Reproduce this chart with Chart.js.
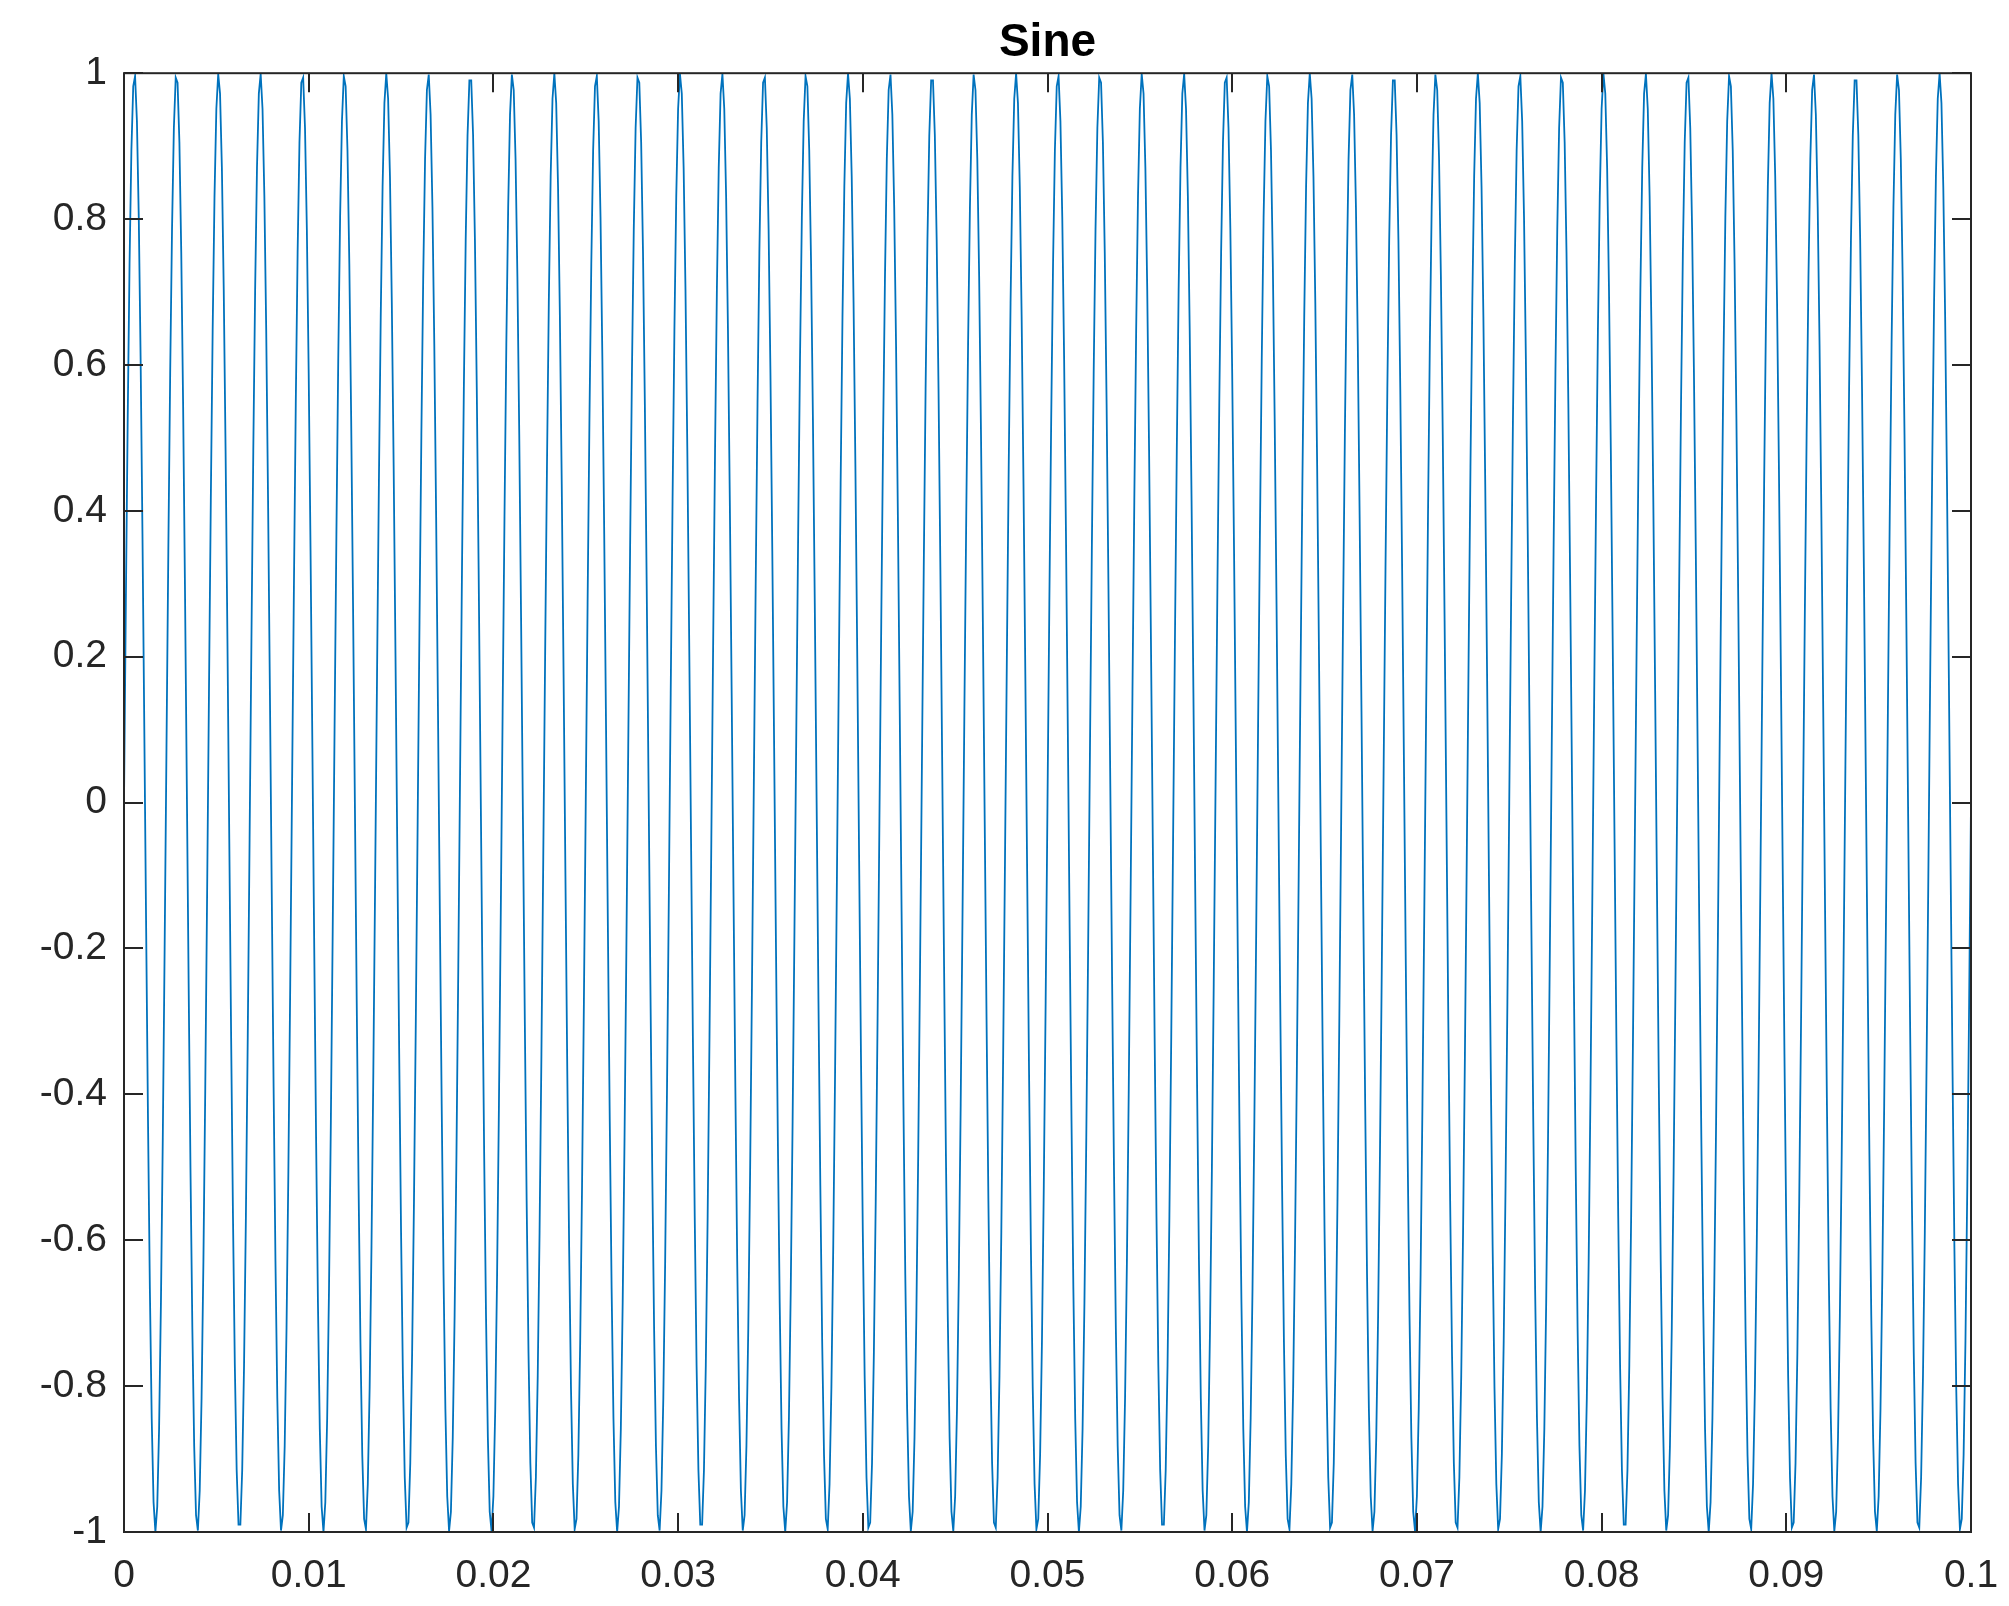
<!DOCTYPE html>
<html>
<head>
<meta charset="utf-8">
<title>Sine</title>
<script src="https://cdn.jsdelivr.net/npm/chart.js@4.4.1/dist/chart.umd.min.js"></script>
<style>
  html, body { margin: 0; padding: 0; background: #fff; }
  #wrap { width: 2009px; height: 1606px; }
</style>
</head>
<body>
<div id="wrap"><canvas id="sineChart"></canvas></div>
<script>
const chartTitle = 'Sine';
const sampleRate = 10000;

const xTickLabels = ['0', '0.01', '0.02', '0.03', '0.04', '0.05', '0.06', '0.07', '0.08', '0.09', '0.1'];
const yTickLabels = ['-1', '-0.8', '-0.6', '-0.4', '-0.2', '0', '0.2', '0.4', '0.6', '0.8', '1'];

const signal = [
  // 0 .. 0.0125 s
  0, 0.273, 0.525, 0.738, 0.894, 0.982, 0.996, 0.934, 0.802, 0.608,
  0.368, 0.1, -0.175, -0.437, -0.666, -0.844, -0.959, -1, -0.965, -0.858,
  -0.685, -0.46, -0.2, 0.075, 0.345, 0.588, 0.786, 0.925, 0.994, 0.987,
  0.905, 0.754, 0.546, 0.297, 0.025, -0.249, -0.504, -0.72, -0.882, -0.977,
  -0.998, -0.943, -0.816, -0.628, -0.391, -0.125, 0.15, 0.414, 0.647, 0.831,
  0.951, 0.999, 0.972, 0.87, 0.703, 0.482, 0.224, -0.05, -0.321, -0.567,
  -0.771, -0.915, -0.99, -0.99, -0.915, -0.771, -0.567, -0.321, -0.05, 0.224,
  0.482, 0.703, 0.87, 0.972, 0.999, 0.951, 0.831, 0.647, 0.414, 0.15,
  -0.125, -0.391, -0.628, -0.816, -0.943, -0.998, -0.977, -0.882, -0.72, -0.504,
  -0.249, 0.025, 0.297, 0.546, 0.754, 0.905, 0.987, 0.994, 0.925, 0.786,
  0.588, 0.345, 0.075, -0.2, -0.46, -0.685, -0.858, -0.965, -1, -0.959,
  -0.844, -0.666, -0.437, -0.175, 0.1, 0.368, 0.608, 0.802, 0.934, 0.996,
  0.982, 0.894, 0.738, 0.525, 0.273,
  // 0.0125 .. 0.025 s
  0, -0.273, -0.525, -0.738, -0.894, -0.982, -0.996, -0.934, -0.802, -0.608,
  -0.368, -0.1, 0.175, 0.437, 0.666, 0.844, 0.959, 1, 0.965, 0.858,
  0.685, 0.46, 0.2, -0.075, -0.345, -0.588, -0.786, -0.925, -0.994, -0.987,
  -0.905, -0.754, -0.546, -0.297, -0.025, 0.249, 0.504, 0.72, 0.882, 0.977,
  0.998, 0.943, 0.816, 0.628, 0.391, 0.125, -0.15, -0.414, -0.647, -0.831,
  -0.951, -0.999, -0.972, -0.87, -0.703, -0.482, -0.224, 0.05, 0.321, 0.567,
  0.771, 0.915, 0.99, 0.99, 0.915, 0.771, 0.567, 0.321, 0.05, -0.224,
  -0.482, -0.703, -0.87, -0.972, -0.999, -0.951, -0.831, -0.647, -0.414, -0.15,
  0.125, 0.391, 0.628, 0.816, 0.943, 0.998, 0.977, 0.882, 0.72, 0.504,
  0.249, -0.025, -0.297, -0.546, -0.754, -0.905, -0.987, -0.994, -0.925, -0.786,
  -0.588, -0.345, -0.075, 0.2, 0.46, 0.685, 0.858, 0.965, 1, 0.959,
  0.844, 0.666, 0.437, 0.175, -0.1, -0.368, -0.608, -0.802, -0.934, -0.996,
  -0.982, -0.894, -0.738, -0.525, -0.273,
  // 0.025 .. 0.0375 s
  0, 0.273, 0.525, 0.738, 0.894, 0.982, 0.996, 0.934, 0.802, 0.608,
  0.368, 0.1, -0.175, -0.437, -0.666, -0.844, -0.959, -1, -0.965, -0.858,
  -0.685, -0.46, -0.2, 0.075, 0.345, 0.588, 0.786, 0.925, 0.994, 0.987,
  0.905, 0.754, 0.546, 0.297, 0.025, -0.249, -0.504, -0.72, -0.882, -0.977,
  -0.998, -0.943, -0.816, -0.628, -0.391, -0.125, 0.15, 0.414, 0.647, 0.831,
  0.951, 0.999, 0.972, 0.87, 0.703, 0.482, 0.224, -0.05, -0.321, -0.567,
  -0.771, -0.915, -0.99, -0.99, -0.915, -0.771, -0.567, -0.321, -0.05, 0.224,
  0.482, 0.703, 0.87, 0.972, 0.999, 0.951, 0.831, 0.647, 0.414, 0.15,
  -0.125, -0.391, -0.628, -0.816, -0.943, -0.998, -0.977, -0.882, -0.72, -0.504,
  -0.249, 0.025, 0.297, 0.546, 0.754, 0.905, 0.987, 0.994, 0.925, 0.786,
  0.588, 0.345, 0.075, -0.2, -0.46, -0.685, -0.858, -0.965, -1, -0.959,
  -0.844, -0.666, -0.437, -0.175, 0.1, 0.368, 0.608, 0.802, 0.934, 0.996,
  0.982, 0.894, 0.738, 0.525, 0.273,
  // 0.0375 .. 0.05 s
  0, -0.273, -0.525, -0.738, -0.894, -0.982, -0.996, -0.934, -0.802, -0.608,
  -0.368, -0.1, 0.175, 0.437, 0.666, 0.844, 0.959, 1, 0.965, 0.858,
  0.685, 0.46, 0.2, -0.075, -0.345, -0.588, -0.786, -0.925, -0.994, -0.987,
  -0.905, -0.754, -0.546, -0.297, -0.025, 0.249, 0.504, 0.72, 0.882, 0.977,
  0.998, 0.943, 0.816, 0.628, 0.391, 0.125, -0.15, -0.414, -0.647, -0.831,
  -0.951, -0.999, -0.972, -0.87, -0.703, -0.482, -0.224, 0.05, 0.321, 0.567,
  0.771, 0.915, 0.99, 0.99, 0.915, 0.771, 0.567, 0.321, 0.05, -0.224,
  -0.482, -0.703, -0.87, -0.972, -0.999, -0.951, -0.831, -0.647, -0.414, -0.15,
  0.125, 0.391, 0.628, 0.816, 0.943, 0.998, 0.977, 0.882, 0.72, 0.504,
  0.249, -0.025, -0.297, -0.546, -0.754, -0.905, -0.987, -0.994, -0.925, -0.786,
  -0.588, -0.345, -0.075, 0.2, 0.46, 0.685, 0.858, 0.965, 1, 0.959,
  0.844, 0.666, 0.437, 0.175, -0.1, -0.368, -0.608, -0.802, -0.934, -0.996,
  -0.982, -0.894, -0.738, -0.525, -0.273,
  // 0.05 .. 0.0625 s
  0, 0.273, 0.525, 0.738, 0.894, 0.982, 0.996, 0.934, 0.802, 0.608,
  0.368, 0.1, -0.175, -0.437, -0.666, -0.844, -0.959, -1, -0.965, -0.858,
  -0.685, -0.46, -0.2, 0.075, 0.345, 0.588, 0.786, 0.925, 0.994, 0.987,
  0.905, 0.754, 0.546, 0.297, 0.025, -0.249, -0.504, -0.72, -0.882, -0.977,
  -0.998, -0.943, -0.816, -0.628, -0.391, -0.125, 0.15, 0.414, 0.647, 0.831,
  0.951, 0.999, 0.972, 0.87, 0.703, 0.482, 0.224, -0.05, -0.321, -0.567,
  -0.771, -0.915, -0.99, -0.99, -0.915, -0.771, -0.567, -0.321, -0.05, 0.224,
  0.482, 0.703, 0.87, 0.972, 0.999, 0.951, 0.831, 0.647, 0.414, 0.15,
  -0.125, -0.391, -0.628, -0.816, -0.943, -0.998, -0.977, -0.882, -0.72, -0.504,
  -0.249, 0.025, 0.297, 0.546, 0.754, 0.905, 0.987, 0.994, 0.925, 0.786,
  0.588, 0.345, 0.075, -0.2, -0.46, -0.685, -0.858, -0.965, -1, -0.959,
  -0.844, -0.666, -0.437, -0.175, 0.1, 0.368, 0.608, 0.802, 0.934, 0.996,
  0.982, 0.894, 0.738, 0.525, 0.273,
  // 0.0625 .. 0.075 s
  0, -0.273, -0.525, -0.738, -0.894, -0.982, -0.996, -0.934, -0.802, -0.608,
  -0.368, -0.1, 0.175, 0.437, 0.666, 0.844, 0.959, 1, 0.965, 0.858,
  0.685, 0.46, 0.2, -0.075, -0.345, -0.588, -0.786, -0.925, -0.994, -0.987,
  -0.905, -0.754, -0.546, -0.297, -0.025, 0.249, 0.504, 0.72, 0.882, 0.977,
  0.998, 0.943, 0.816, 0.628, 0.391, 0.125, -0.15, -0.414, -0.647, -0.831,
  -0.951, -0.999, -0.972, -0.87, -0.703, -0.482, -0.224, 0.05, 0.321, 0.567,
  0.771, 0.915, 0.99, 0.99, 0.915, 0.771, 0.567, 0.321, 0.05, -0.224,
  -0.482, -0.703, -0.87, -0.972, -0.999, -0.951, -0.831, -0.647, -0.414, -0.15,
  0.125, 0.391, 0.628, 0.816, 0.943, 0.998, 0.977, 0.882, 0.72, 0.504,
  0.249, -0.025, -0.297, -0.546, -0.754, -0.905, -0.987, -0.994, -0.925, -0.786,
  -0.588, -0.345, -0.075, 0.2, 0.46, 0.685, 0.858, 0.965, 1, 0.959,
  0.844, 0.666, 0.437, 0.175, -0.1, -0.368, -0.608, -0.802, -0.934, -0.996,
  -0.982, -0.894, -0.738, -0.525, -0.273,
  // 0.075 .. 0.0875 s
  0, 0.273, 0.525, 0.738, 0.894, 0.982, 0.996, 0.934, 0.802, 0.608,
  0.368, 0.1, -0.175, -0.437, -0.666, -0.844, -0.959, -1, -0.965, -0.858,
  -0.685, -0.46, -0.2, 0.075, 0.345, 0.588, 0.786, 0.925, 0.994, 0.987,
  0.905, 0.754, 0.546, 0.297, 0.025, -0.249, -0.504, -0.72, -0.882, -0.977,
  -0.998, -0.943, -0.816, -0.628, -0.391, -0.125, 0.15, 0.414, 0.647, 0.831,
  0.951, 0.999, 0.972, 0.87, 0.703, 0.482, 0.224, -0.05, -0.321, -0.567,
  -0.771, -0.915, -0.99, -0.99, -0.915, -0.771, -0.567, -0.321, -0.05, 0.224,
  0.482, 0.703, 0.87, 0.972, 0.999, 0.951, 0.831, 0.647, 0.414, 0.15,
  -0.125, -0.391, -0.628, -0.816, -0.943, -0.998, -0.977, -0.882, -0.72, -0.504,
  -0.249, 0.025, 0.297, 0.546, 0.754, 0.905, 0.987, 0.994, 0.925, 0.786,
  0.588, 0.345, 0.075, -0.2, -0.46, -0.685, -0.858, -0.965, -1, -0.959,
  -0.844, -0.666, -0.437, -0.175, 0.1, 0.368, 0.608, 0.802, 0.934, 0.996,
  0.982, 0.894, 0.738, 0.525, 0.273,
  // 0.0875 .. 0.1 s
  0, -0.273, -0.525, -0.738, -0.894, -0.982, -0.996, -0.934, -0.802, -0.608,
  -0.368, -0.1, 0.175, 0.437, 0.666, 0.844, 0.959, 1, 0.965, 0.858,
  0.685, 0.46, 0.2, -0.075, -0.345, -0.588, -0.786, -0.925, -0.994, -0.987,
  -0.905, -0.754, -0.546, -0.297, -0.025, 0.249, 0.504, 0.72, 0.882, 0.977,
  0.998, 0.943, 0.816, 0.628, 0.391, 0.125, -0.15, -0.414, -0.647, -0.831,
  -0.951, -0.999, -0.972, -0.87, -0.703, -0.482, -0.224, 0.05, 0.321, 0.567,
  0.771, 0.915, 0.99, 0.99, 0.915, 0.771, 0.567, 0.321, 0.05, -0.224,
  -0.482, -0.703, -0.87, -0.972, -0.999, -0.951, -0.831, -0.647, -0.414, -0.15,
  0.125, 0.391, 0.628, 0.816, 0.943, 0.998, 0.977, 0.882, 0.72, 0.504,
  0.249, -0.025, -0.297, -0.546, -0.754, -0.905, -0.987, -0.994, -0.925, -0.786,
  -0.588, -0.345, -0.075, 0.2, 0.46, 0.685, 0.858, 0.965, 1, 0.959,
  0.844, 0.666, 0.437, 0.175, -0.1, -0.368, -0.608, -0.802, -0.934, -0.996,
  -0.982, -0.894, -0.738, -0.525, -0.273,
  0
];

const AXIS_COLOR = '#262626';
const LINE_COLOR = '#0072bd';
const FONT_FAMILY = '"Liberation Sans", Helvetica, Arial, sans-serif';

// MATLAB-style box with inward ticks on all four sides
const boxAxesPlugin = {
  id: 'boxAxes',
  afterDraw(chart) {
    const { ctx, chartArea } = chart;
    const { left, right, top, bottom } = chartArea;
    const xs = chart.scales.x;
    const ys = chart.scales.y;
    ctx.save();
    ctx.strokeStyle = AXIS_COLOR;
    ctx.lineWidth = 2;
    ctx.beginPath();
    xs.ticks.forEach((t, i) => {
      const px = Math.round(xs.getPixelForTick(i));
      ctx.moveTo(px, bottom);
      ctx.lineTo(px, bottom - 19);
      ctx.moveTo(px, top);
      ctx.lineTo(px, top + 19);
    });
    ys.ticks.forEach((t, i) => {
      const py = Math.round(ys.getPixelForTick(i));
      ctx.moveTo(left, py);
      ctx.lineTo(left + 19, py);
      ctx.moveTo(right, py);
      ctx.lineTo(right - 19, py);
    });
    ctx.stroke();
    ctx.strokeRect(left, top, right - left, bottom - top);
    ctx.restore();
  }
};

const points = signal.map((y, n) => ({ x: n / sampleRate, y }));

const ctx = document.getElementById('sineChart').getContext('2d');
new Chart(ctx, {
  type: 'line',
  data: {
    datasets: [{
      label: chartTitle,
      data: points,
      borderColor: LINE_COLOR,
      borderWidth: 1.8,
      pointRadius: 0,
      tension: 0,
      fill: false
    }]
  },
  options: {
    responsive: true,
    maintainAspectRatio: false,
    devicePixelRatio: 1,
    animation: false,
    layout: { padding: { left: 0, right: 38, top: 0, bottom: 0 } },
    plugins: {
      legend: { display: false },
      tooltip: { enabled: false },
      title: {
        display: true,
        fullSize: false,
        text: chartTitle,
        color: '#000',
        font: { family: FONT_FAMILY, size: 46, weight: 'bold' },
        padding: { top: 16, bottom: 2 }
      }
    },
    scales: {
      x: {
        type: 'linear',
        min: 0,
        max: 0.1,
        grid: { display: false, drawTicks: false },
        border: { display: false },
        ticks: {
          stepSize: 0.01,
          autoSkip: false,
          maxRotation: 0,
          padding: 21,
          color: AXIS_COLOR,
          font: { family: FONT_FAMILY, size: 39 },
          callback: (v, i) => xTickLabels[i]
        },
        afterFit: (scale) => {
          scale.height = 74;
          scale.paddingRight = 38;
          scale.paddingLeft = 0;
        }
      },
      y: {
        type: 'linear',
        min: -1,
        max: 1,
        grid: { display: false, drawTicks: false },
        border: { display: false },
        ticks: {
          stepSize: 0.2,
          autoSkip: false,
          padding: 17,
          color: AXIS_COLOR,
          font: { family: FONT_FAMILY, size: 39 },
          callback: (v, i) => yTickLabels[i]
        },
        afterFit: (scale) => { scale.width = 124; }
      }
    }
  },
  plugins: [boxAxesPlugin]
});
</script>
</body>
</html>
